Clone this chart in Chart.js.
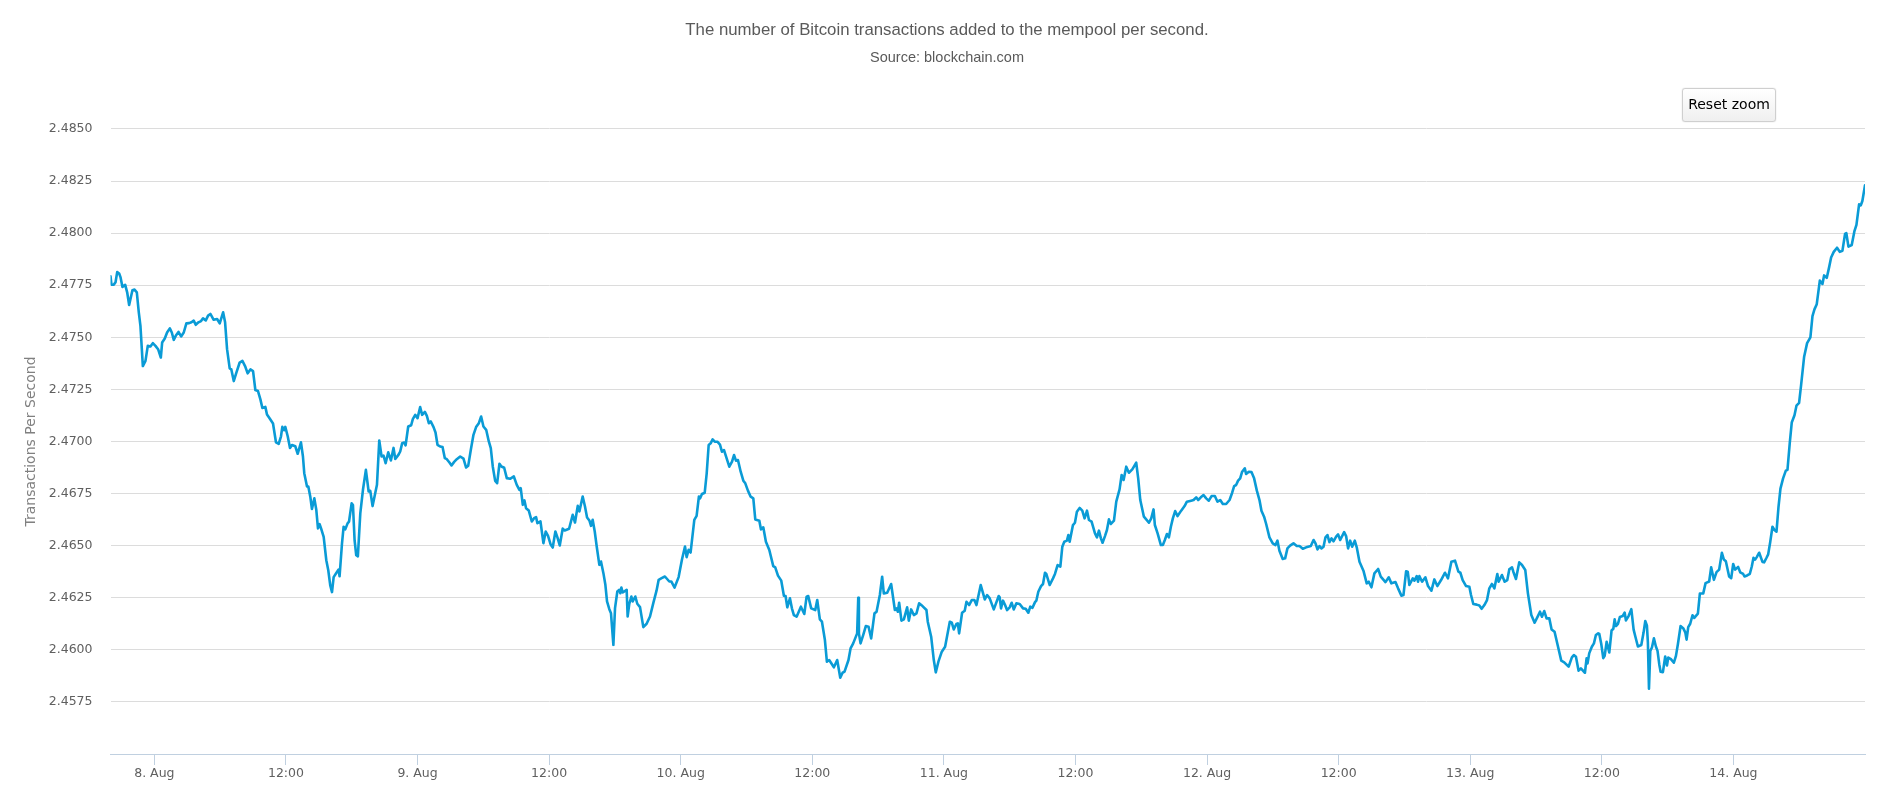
<!DOCTYPE html>
<html>
<head>
<meta charset="utf-8">
<style>
html,body{margin:0;padding:0;background:#fff;overflow:hidden}
#wrap{position:relative;width:1885px;height:793px}
#reset{position:absolute;left:1682px;top:88px;width:94px;height:34px;box-sizing:border-box;border:1px solid #cfcfcf;border-radius:3px;background:linear-gradient(#ffffff,#efefef);font:14px "DejaVu Sans",sans-serif;color:#000;padding:0 0 3px 0;box-shadow:0 0 1px #bbb}
</style>
<script src="https://cdn.jsdelivr.net/npm/chart.js@4"></script>
</head>
<body>
<div id="wrap">
<canvas id="c" width="1885" height="793"></canvas>
<button id="reset">Reset zoom</button>
</div>
<script>
const chartTitle = 'The number of Bitcoin transactions added to the mempool per second.';
const chartSubtitle = 'Source: blockchain.com';
const yAxisTitle = 'Transactions Per Second';
const seriesColor = '#0a9bd6';

// hours relative to 8 Aug 00:00
const xMin = -4, xMax = 156;
const tickHours = [0,12,24,36,48,60,72,84,96,108,120,132,144];
const tickLabels = ['8. Aug','12:00','9. Aug','12:00','10. Aug','12:00','11. Aug','12:00','12. Aug','12:00','13. Aug','12:00','14. Aug'];

const hours = [
-4.00,-3.91,-3.70,-3.54,-3.39,-3.21,-3.09,-2.91,-2.66,-2.48,-2.30,-2.00,-1.81,-1.60,-1.42,-1.27,-1.05,-0.81,-0.60,-0.36,-0.14,0.10,0.34,0.59,0.71,0.95,1.16,1.41,1.59,1.77,1.95,2.20,2.44,2.68,2.92,3.17,3.38,3.59,3.77,4.02,4.26,4.44,4.69,4.90,5.11,5.41,5.72,5.96,6.27,6.45,6.63,6.87,7.02,7.24,7.48,7.78,8.03,8.27,8.51,8.76,9.00,9.21,9.45,9.67,9.85,10.12,10.27,10.52,10.82,11.09,11.34,11.55,11.67,11.85,11.94,12.16,12.37,12.55,12.85,13.07,13.37,13.55,13.67,13.92,14.04,14.22,14.37,14.59,14.77,14.92,15.07,15.25,15.44,15.68,15.86,16.04,16.20,16.35,16.59,16.80,16.89,17.11,17.26,17.41,17.62,17.75,17.99,18.11,18.26,18.41,18.56,18.78,19.02,19.29,19.54,19.69,19.90,20.14,20.30,20.51,20.72,20.90,21.09,21.33,21.57,21.81,21.97,22.27,
22.42,22.60,22.78,22.91,23.15,23.42,23.57,23.79,24.00,24.24,24.42,24.67,24.85,25.03,25.21,25.46,25.64,25.82,26.06,26.28,26.49,26.67,26.91,27.10,27.34,27.58,27.89,28.19,28.43,28.62,28.86,29.10,29.34,29.59,29.80,30.01,30.26,30.50,30.68,30.86,31.08,31.26,31.47,31.65,31.90,32.14,32.44,32.78,33.05,33.29,33.41,33.60,33.75,33.90,34.14,34.42,34.63,34.81,34.93,35.21,35.48,35.69,35.90,36.15,36.33,36.57,36.75,36.97,37.24,37.42,37.82,38.15,38.36,38.61,38.76,39.06,39.27,39.46,39.67,39.82,39.97,40.16,40.34,40.58,40.73,40.95,41.13,41.28,41.49,41.64,41.86,42.01,42.22,42.40,42.49,42.59,42.71,43.07,43.16,43.31,43.50,43.62,43.86,44.04,44.29,44.59,44.89,45.20,45.50,45.80,45.99,46.26,46.56,46.96,47.14,47.44,47.81,48.11,48.39,48.54,48.72,48.90,49.24,49.45,49.66,
49.76,49.94,50.19,50.37,50.55,50.73,50.91,51.10,51.34,51.58,51.76,51.95,52.19,52.43,52.68,52.86,53.04,53.22,53.47,53.71,53.89,54.13,54.38,54.62,54.80,55.17,55.32,55.53,55.77,56.08,56.44,56.62,56.87,57.17,57.41,57.56,57.72,57.96,58.14,58.32,58.57,58.96,59.27,59.48,59.63,59.90,60.27,60.45,60.69,60.88,61.15,61.33,61.54,61.97,62.27,62.55,62.76,62.94,63.30,63.49,63.73,64.09,64.19,64.25,64.40,64.64,64.88,65.13,65.37,65.67,65.86,66.16,66.37,66.52,66.83,67.19,67.53,67.68,67.80,67.92,68.13,68.35,68.65,68.80,69.01,69.26,69.50,69.74,70.05,70.41,70.53,70.84,71.08,71.26,71.50,71.81,72.11,72.54,72.72,72.90,73.14,73.27,73.39,73.66,73.90,74.06,74.30,74.54,74.78,74.97,75.36,75.73,75.94,76.18,76.55,77.00,
77.09,77.21,77.39,77.58,77.76,78.00,78.18,78.37,78.61,78.91,79.22,79.46,79.70,79.88,80.07,80.31,80.43,80.61,80.86,81.04,81.22,81.34,81.65,81.95,82.13,82.37,82.62,82.80,82.98,83.22,83.35,83.47,83.77,83.95,84.13,84.38,84.62,84.83,85.05,85.23,85.47,85.78,85.96,86.14,86.32,86.47,86.69,86.87,87.05,87.23,87.51,87.72,88.02,88.21,88.39,88.63,88.87,89.18,89.54,89.72,89.91,90.24,90.45,90.70,90.91,91.12,91.24,91.49,91.79,91.97,92.15,92.34,92.52,92.70,92.88,93.09,93.31,93.64,93.95,94.16,94.55,94.77,95.01,95.19,95.43,95.68,95.92,96.16,96.41,96.71,96.95,97.20,97.44,97.74,98.05,98.29,98.47,98.65,98.83,99.02,99.20,99.44,99.56,99.81,100.05,100.29,100.54,100.78,100.96,101.20,101.39,101.69,101.99,102.24,102.42,102.60,102.90,103.12,103.33,103.57,103.88,104.18,
104.43,104.73,105.04,105.46,105.71,105.89,106.07,106.25,106.43,106.62,106.80,106.98,107.16,107.35,107.53,107.77,107.95,108.14,108.50,108.68,108.86,109.05,109.23,109.47,109.65,109.90,110.26,110.56,110.75,110.99,111.26,111.60,111.84,112.27,112.57,112.81,113.18,113.42,113.72,113.91,114.15,114.30,114.45,114.76,114.91,115.12,115.24,115.36,115.61,115.91,116.15,116.46,116.73,117.00,117.34,117.70,117.97,118.28,118.61,118.92,119.10,119.31,119.62,119.92,120.07,120.28,120.59,120.83,121.04,121.29,121.53,121.74,121.98,122.20,122.47,122.59,122.89,123.14,123.38,123.56,123.81,123.93,124.17,124.47,124.72,125.02,125.26,125.57,125.87,126.17,126.36,126.54,126.75,126.96,127.21,127.42,127.69,127.97,128.30,128.57,128.97,129.27,129.45,129.64,129.88,130.09,130.46,130.61,130.70,130.85,131.09,131.28,131.46,131.67,
131.77,131.95,132.13,132.26,132.44,132.68,132.89,133.05,133.17,133.29,133.47,133.65,133.90,134.08,134.20,134.44,134.69,134.90,135.05,135.29,135.60,135.81,135.96,136.11,136.20,136.30,136.42,136.57,136.75,136.93,137.08,137.24,137.36,137.57,137.78,137.94,138.06,138.30,138.57,138.76,138.94,139.18,139.42,139.61,139.73,139.88,140.06,140.27,140.43,140.76,140.94,141.25,141.46,141.79,141.97,142.22,142.46,142.70,142.95,143.13,143.31,143.61,143.80,143.98,144.16,144.43,144.62,144.89,145.01,145.25,145.50,145.68,145.83,145.98,146.13,146.35,146.65,146.80,147.02,147.17,147.35,147.56,147.74,147.93,148.11,148.29,148.53,148.78,148.93,149.14,149.32,149.57,149.75,149.99,150.17,150.45,150.72,151.02,151.21,151.39,151.60,151.88,152.12,152.27,152.51,152.73,152.91,153.15,153.45,153.70,153.94,154.18,154.30,154.49,154.79,155.03,155.22,155.46,155.61,155.76,156.00
];

const txPerSecond = [
2.47793,2.47752,2.47753,2.47764,2.47813,2.47806,2.47789,2.47742,2.47752,2.47716,2.47655,2.47726,2.47729,2.47716,2.47620,2.47555,2.47362,2.47387,2.47459,2.47456,2.47472,2.47459,2.47443,2.47403,2.47475,2.47494,2.47523,2.47543,2.47523,2.47488,2.47507,2.47526,2.47504,2.47523,2.47567,2.47568,2.47572,2.47580,2.47560,2.47572,2.47578,2.47591,2.47581,2.47604,2.47612,2.47584,2.47588,2.47567,2.47620,2.47572,2.47443,2.47351,2.47346,2.47290,2.47330,2.47379,2.47387,2.47362,2.47327,2.47346,2.47338,2.47247,2.47242,2.47202,2.47161,2.47166,2.47129,2.47110,2.47086,2.46996,2.46989,2.47025,2.47070,2.47054,2.47070,2.47025,2.46969,2.46983,2.46977,2.46941,2.46996,2.46928,2.46848,2.46784,2.46784,2.46735,2.46676,2.46727,2.46671,2.46583,2.46603,2.46575,2.46542,2.46430,2.46382,2.46309,2.46277,2.46349,2.46369,2.46385,2.46353,2.46510,2.46591,2.46578,2.46607,2.46615,2.46703,2.46695,2.46526,2.46454,2.46449,2.46655,2.46767,2.46864,2.46760,2.46763,2.46690,2.46751,2.46792,2.47005,2.46928,2.46932,2.46896,2.46948,2.46909,2.46969,2.46916,2.46937,
2.46952,2.46992,2.46995,2.46981,2.47072,2.47078,2.47107,2.47128,2.47112,2.47165,2.47128,2.47142,2.47123,2.47088,2.47096,2.47069,2.47043,2.46984,2.46976,2.46973,2.46920,2.46915,2.46899,2.46885,2.46902,2.46915,2.46928,2.46918,2.46875,2.46883,2.46960,2.47032,2.47069,2.47088,2.47120,2.47072,2.47056,2.47000,2.46968,2.46880,2.46811,2.46800,2.46893,2.46880,2.46874,2.46824,2.46821,2.46832,2.46792,2.46768,2.46776,2.46696,2.46717,2.46680,2.46669,2.46616,2.46632,2.46637,2.46608,2.46616,2.46512,2.46568,2.46547,2.46504,2.46491,2.46568,2.46541,2.46501,2.46582,2.46573,2.46581,2.46648,2.46611,2.46691,2.46664,2.46736,2.46688,2.46635,2.46621,2.46595,2.46624,2.46568,2.46496,2.46408,2.46424,2.46368,2.46312,2.46232,2.46195,2.46176,2.46024,2.46200,2.46280,2.46288,2.46272,2.46299,2.46275,2.46288,2.46160,2.46221,2.46256,2.46232,2.46256,2.46221,2.46205,2.46109,2.46125,2.46160,2.46224,2.46285,2.46336,2.46344,2.46352,2.46328,2.46328,2.46299,2.46349,2.46432,2.46496,2.46445,2.46480,2.46467,2.46624,2.46643,2.46736,
2.46727,2.46748,2.46754,2.46847,2.46983,2.46991,2.47010,2.46999,2.46999,2.46985,2.46951,2.46959,2.46919,2.46879,2.46903,2.46935,2.46908,2.46911,2.46855,2.46812,2.46799,2.46764,2.46735,2.46727,2.46626,2.46620,2.46578,2.46588,2.46519,2.46479,2.46402,2.46396,2.46356,2.46332,2.46260,2.46258,2.46204,2.46247,2.46199,2.46167,2.46159,2.46207,2.46172,2.46255,2.46258,2.46199,2.46191,2.46239,2.46146,2.46135,2.46047,2.45943,2.45951,2.45916,2.45951,2.45866,2.45890,2.45895,2.45951,2.46007,2.46031,2.46079,2.46250,2.46079,2.46031,2.46071,2.46114,2.46111,2.46055,2.46175,2.46183,2.46263,2.46351,2.46271,2.46274,2.46316,2.46191,2.46199,2.46183,2.46226,2.46140,2.46146,2.46204,2.46140,2.46194,2.46167,2.46175,2.46223,2.46210,2.46191,2.46135,2.46063,2.45951,2.45892,2.45943,2.45991,2.46015,2.46135,2.46130,2.46098,2.46124,2.46127,2.46079,2.46178,2.46188,2.46231,2.46215,2.46239,2.46239,2.46215,2.46311,2.46242,2.46263,2.46247,2.46194,2.46258,
2.46252,2.46199,2.46236,2.46215,2.46191,2.46204,2.46226,2.46194,2.46223,2.46220,2.46199,2.46197,2.46178,2.46207,2.46201,2.46229,2.46236,2.46279,2.46306,2.46316,2.46370,2.46364,2.46311,2.46343,2.46364,2.46407,2.46399,2.46495,2.46519,2.46524,2.46551,2.46519,2.46599,2.46610,2.46663,2.46681,2.46668,2.46631,2.46668,2.46623,2.46615,2.46559,2.46540,2.46572,2.46535,2.46514,2.46546,2.46575,2.46626,2.46604,2.46620,2.46711,2.46770,2.46839,2.46815,2.46879,2.46850,2.46866,2.46898,2.46823,2.46719,2.46639,2.46626,2.46610,2.46631,2.46674,2.46599,2.46559,2.46503,2.46503,2.46527,2.46556,2.46540,2.46591,2.46631,2.46666,2.46642,2.46668,2.46690,2.46711,2.46716,2.46719,2.46732,2.46719,2.46732,2.46743,2.46727,2.46716,2.46738,2.46738,2.46711,2.46719,2.46700,2.46700,2.46719,2.46754,2.46786,2.46791,2.46812,2.46823,2.46855,2.46871,2.46844,2.46855,2.46853,2.46823,2.46764,2.46719,2.46668,2.46639,2.46604,2.46540,2.46511,2.46503,2.46524,2.46476,2.46436,2.46439,2.46487,2.46500,2.46511,2.46498,
2.46498,2.46485,2.46492,2.46498,2.46527,2.46511,2.46482,2.46498,2.46487,2.46495,2.46540,2.46551,2.46517,2.46535,2.46521,2.46543,2.46554,2.46527,2.46565,2.46546,2.46487,2.46524,2.46495,2.46524,2.46492,2.46423,2.46380,2.46319,2.46327,2.46300,2.46367,2.46388,2.46351,2.46325,2.46348,2.46319,2.46325,2.46295,2.46260,2.46263,2.46377,2.46375,2.46311,2.46343,2.46332,2.46354,2.46327,2.46354,2.46327,2.46348,2.46306,2.46284,2.46338,2.46306,2.46335,2.46370,2.46343,2.46423,2.46428,2.46375,2.46370,2.46335,2.46306,2.46303,2.46263,2.46220,2.46217,2.46213,2.46197,2.46215,2.46239,2.46295,2.46316,2.46295,2.46364,2.46327,2.46359,2.46327,2.46335,2.46386,2.46396,2.46375,2.46340,2.46420,2.46407,2.46383,2.46271,2.46167,2.46130,2.46162,2.46183,2.46159,2.46186,2.46151,2.46151,2.46098,2.46087,2.46023,2.45948,2.45940,2.45919,2.45964,2.45975,2.45967,2.45900,2.45911,2.45890,2.45959,2.45935,2.45983,2.46015,2.46031,2.46071,2.46079,
2.46076,2.46028,2.45960,2.45971,2.46039,2.45987,2.46093,2.46101,2.46146,2.46114,2.46125,2.46158,2.46162,2.46179,2.46141,2.46162,2.46195,2.46097,2.46065,2.46016,2.46023,2.46084,2.46138,2.46117,2.46036,2.45813,2.45995,2.46011,2.46055,2.46016,2.45995,2.45930,2.45895,2.45893,2.45968,2.45925,2.45963,2.45955,2.45938,2.45971,2.46028,2.46114,2.46104,2.46084,2.46049,2.46109,2.46125,2.46166,2.46153,2.46174,2.46270,2.46271,2.46320,2.46328,2.46396,2.46336,2.46373,2.46385,2.46466,2.46433,2.46425,2.46352,2.46344,2.46412,2.46385,2.46398,2.46372,2.46364,2.46352,2.46357,2.46365,2.46401,2.46442,2.46433,2.46445,2.46466,2.46422,2.46420,2.46442,2.46458,2.46515,2.46591,2.46575,2.46567,2.46685,2.46774,2.46823,2.46860,2.46864,2.46993,2.47091,2.47126,2.47172,2.47185,2.47269,2.47407,2.47472,2.47500,2.47602,2.47634,2.47659,2.47772,2.47756,2.47797,2.47785,2.47837,2.47883,2.47910,2.47930,2.47910,2.47915,2.47996,2.48000,2.47935,2.47943,2.48008,2.48040,2.48138,2.48133,2.48154,2.48230
];

const points = hours.map((h, i) => ({x: h, y: txPerSecond[i]}));

new Chart(document.getElementById('c'), {
  type: 'line',
  data: { datasets: [{ data: points, borderColor: seriesColor, borderWidth: 2.6, borderJoinStyle: 'round', borderCapStyle: 'round', pointRadius: 0, tension: 0, fill: false }] },
  options: {
    responsive: false,
    animation: false,
    layout: { padding: { left: 29, right: 20, top: 0, bottom: 0 } },
    plugins: {
      legend: { display: false },
      tooltip: { enabled: false },
      title: {
        display: true, text: chartTitle, color: '#5a5a5a',
        font: { family: '"Liberation Sans", Arial, sans-serif', size: 16.8, weight: 'normal', lineHeight: 1.2 },
        padding: { top: 19.9, bottom: 8.8 }
      },
      subtitle: {
        display: true, text: chartSubtitle, color: '#5a5a5a',
        font: { family: '"Liberation Sans", Arial, sans-serif', size: 14.5, weight: 'normal', lineHeight: 1.2 },
        padding: { top: 0, bottom: 62.7 }
      }
    },
    scales: {
      x: {
        type: 'linear', min: xMin, max: xMax,
        afterBuildTicks: s => { s.ticks = tickHours.map(v => ({value: v})); },
        afterFit: s => { s.height = 39; },
        grid: { drawOnChartArea: false, drawTicks: true, tickLength: 11, color: '#C0D0E0', lineWidth: 1 },
        border: { display: true, color: '#C0D0E0', width: 1 },
        ticks: {
          callback: (v, i) => tickLabels[i],
          autoSkip: false, maxRotation: 0, minRotation: 0, padding: 1,
          color: '#606060',
          font: { family: '"DejaVu Sans", sans-serif', size: 12.5 }
        }
      },
      y: {
        min: 2.455, max: 2.485,
        afterFit: s => { s.width = 81.5; },
        afterBuildTicks: s => { s.ticks = s.ticks.filter(t => t.value > 2.4551); },
        grid: { color: '#dcdcdc', lineWidth: 1, drawTicks: false },
        border: { display: false },
        title: {
          display: true, text: yAxisTitle, color: '#808080',
          font: { family: '"DejaVu Sans", sans-serif', size: 14 },
          padding: { top: -6, bottom: 0 }
        },
        ticks: {
          stepSize: 0.0025, padding: 18, color: '#606060',
          callback: v => v.toFixed(4),
          font: { family: '"DejaVu Sans", sans-serif', size: 12.5 }
        }
      }
    }
  }
});
</script>
</body>
</html>
